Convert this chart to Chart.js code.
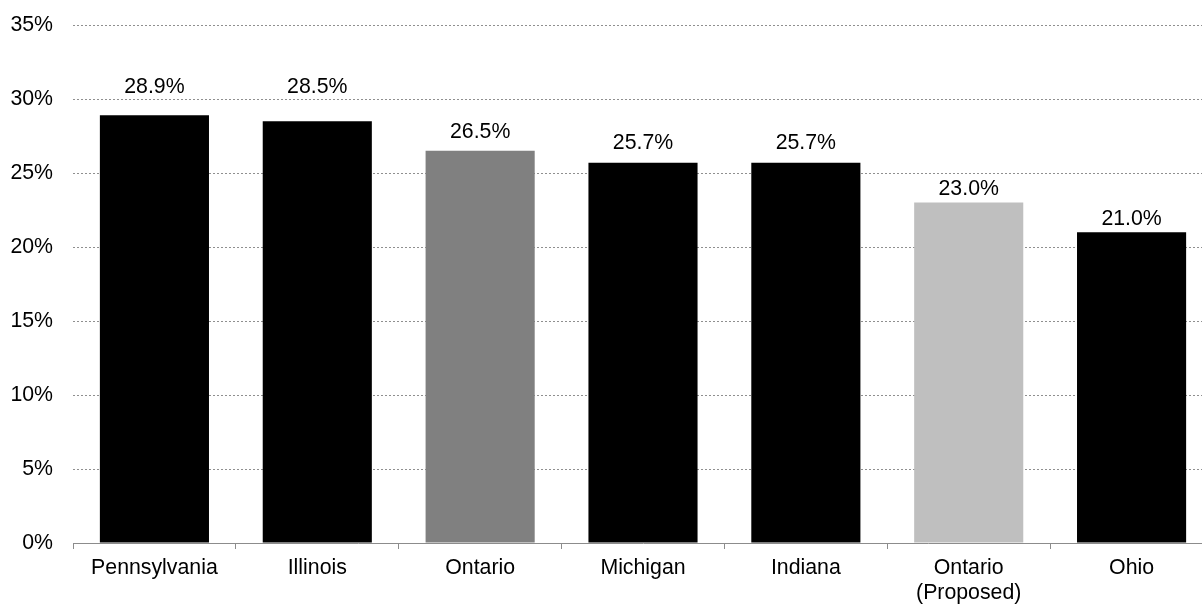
<!DOCTYPE html>
<html>
<head>
<meta charset="utf-8">
<script src="https://cdn.jsdelivr.net/npm/chart.js@4.4.0/dist/chart.umd.min.js"></script>
<style>
  html, body { margin: 0; padding: 0; background: #fff; overflow: hidden; }
  #wrap { width: 1213px; height: 604px; }
</style>
</head>
<body>
<div id="wrap"><canvas id="rateChart" width="1213" height="604"></canvas></div>
<script>
// ---- data ----
const regions = ["Pennsylvania", "Illinois", "Ontario", "Michigan", "Indiana", ["Ontario", "(Proposed)"], "Ohio"];
const rates = [28.9, 28.5, 26.5, 25.7, 25.7, 23.0, 21.0];
const barColors = ["#000000", "#000000", "#808080", "#000000", "#000000", "#bfbfbf", "#000000"];
const yTicks = [0, 5, 10, 15, 20, 25, 30, 35];

// distance from the bar top to the middle of each value label
const labelGap = [28, 34, 19, 20, 20, 13, 13];

const fontFamily = "'Liberation Sans', Arial, Helvetica, sans-serif";
const fontSize = 21.3;

// value labels over each bar
const valueLabels = {
    id: "valueLabels",
    afterDatasetsDraw(chart) {
        const ctx = chart.ctx;
        const meta = chart.getDatasetMeta(0);
        ctx.save();
        ctx.font = fontSize + "px " + fontFamily;
        ctx.fillStyle = "#000";
        ctx.textAlign = "center";
        ctx.textBaseline = "middle";
        meta.data.forEach(function(bar, i) {
            ctx.fillText(rates[i].toFixed(1) + "%", bar.x, bar.y - labelGap[i]);
        });
        ctx.restore();
    }
};

const ctx = document.getElementById("rateChart").getContext("2d");
new Chart(ctx, {
    type: "bar",
    data: {
        labels: regions,
        datasets: [{
            data: rates,
            backgroundColor: barColors,
            barPercentage: 0.67,
            categoryPercentage: 1.0
        }]
    },
    options: {
        responsive: false,
        animation: false,
        layout: { padding: { top: 25, right: 0, bottom: 0, left: 0 } },
        plugins: {
            legend: { display: false },
            tooltip: { enabled: false }
        },
        scales: {
            x: {
                border: { display: true, color: "#8c8c8c", width: 1 },
                grid: {
                    offset: true,
                    drawOnChartArea: false,
                    drawTicks: true,
                    tickLength: 6,
                    color: "#8c8c8c"
                },
                ticks: {
                    color: "#000",
                    padding: 7,
                    maxRotation: 0,
                    autoSkip: false,
                    font: { family: fontFamily, size: fontSize, lineHeight: 1.15 }
                },
                afterFit(scale) { scale.height = 61; }
            },
            y: {
                min: 0,
                max: 35,
                afterBuildTicks(scale) {
                    scale.ticks = yTicks.map(function(v) { return { value: v }; });
                },
                grid: {
                    drawTicks: false,
                    tickLength: 0,
                    color(c) { return c.tick.value === 0 ? "rgba(0,0,0,0)" : "#8f8f8f"; },
                    lineWidth: 1
                },
                // dotted grid lines, no axis line
                border: { display: false, dash: [2, 2] },
                ticks: {
                    color: "#000",
                    padding: 20,
                    font: { family: fontFamily, size: fontSize },
                    callback(v) { return v + "%"; }
                },
                afterFit(scale) {
                    scale.width = 73;
                    scale.paddingTop = 0;
                    scale.paddingBottom = 0;
                }
            }
        }
    },
    plugins: [valueLabels]
});
</script>
</body>
</html>
